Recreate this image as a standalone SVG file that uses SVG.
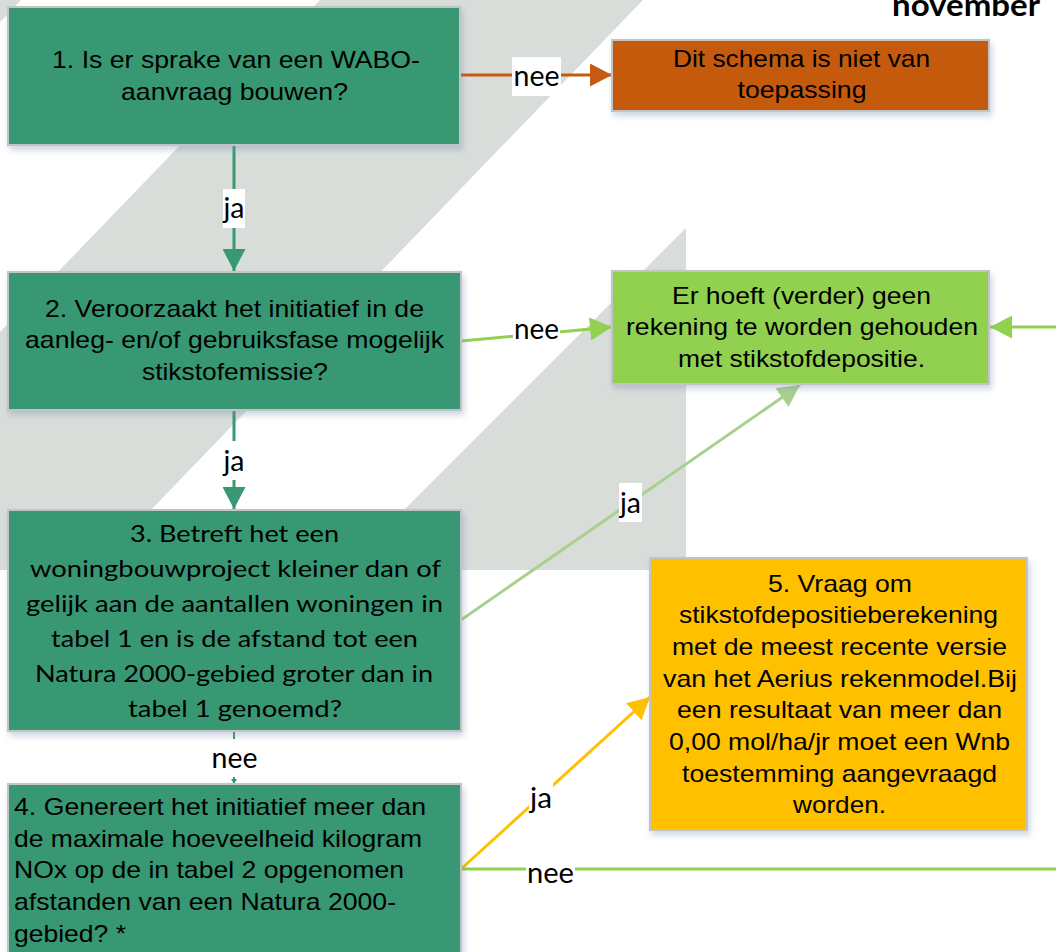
<svg xmlns="http://www.w3.org/2000/svg" width="1056" height="952" viewBox="0 0 1056 952">
<style>
.box{stroke:#C4C4C4;stroke-width:2;filter:url(#sh)}
.t{font-family:"Liberation Sans",Arial,sans-serif;font-size:24px;fill:#000;text-anchor:middle}
.tl{font-family:"Liberation Sans",Arial,sans-serif;font-size:24px;fill:#000}
.c{font-family:Lato,"Open Sans",sans-serif;font-size:23px;fill:#000;text-anchor:middle}
.lbl{font-family:Lato,"Open Sans",sans-serif;font-size:28px;fill:#000;text-anchor:middle}
.lb{fill:#fff}
.ln{fill:none;stroke-width:3}
</style>
<defs>
<filter id="sh" x="-5%" y="-5%" width="115%" height="120%">
<feDropShadow dx="2" dy="4" stdDeviation="3" flood-color="#7088B0" flood-opacity="0.35"/>
</filter>
<marker id="aG" markerUnits="userSpaceOnUse" markerWidth="23" markerHeight="23" refX="22" refY="11.5" orient="auto"><path d="M0,0 L22,11.5 L0,23 z" fill="#389873"/></marker>
<marker id="aGs" markerUnits="userSpaceOnUse" markerWidth="6" markerHeight="6" refX="5" refY="3" orient="auto"><path d="M0,0 L5,3 L0,6 z" fill="#389873"/></marker>
<marker id="aO" markerUnits="userSpaceOnUse" markerWidth="23" markerHeight="23" refX="22" refY="11.5" orient="auto"><path d="M0,0 L22,11.5 L0,23 z" fill="#C55A11"/></marker>
<marker id="aL" markerUnits="userSpaceOnUse" markerWidth="23" markerHeight="23" refX="22" refY="11.5" orient="auto"><path d="M0,0 L22,11.5 L0,23 z" fill="#92D050"/></marker>
<marker id="aP" markerUnits="userSpaceOnUse" markerWidth="23" markerHeight="23" refX="22" refY="11.5" orient="auto"><path d="M0,0 L22,11.5 L0,23 z" fill="#A9D18E"/></marker>
<marker id="aY" markerUnits="userSpaceOnUse" markerWidth="23" markerHeight="23" refX="22" refY="11.5" orient="auto"><path d="M0,0 L22,11.5 L0,23 z" fill="#FFC000"/></marker>
</defs>
<rect width="1056" height="952" fill="#fff"/>
<g id="background" fill="#D9DDDA">
<polygon points="0,0 21,0 0,22"/>
<polygon points="320,0 643,0 93,570 0,570 0,332"/>
<polygon points="686,228 686,570 344,570"/>
</g>
<text x="1040" y="16" font-family="Lato,'Open Sans',sans-serif" font-weight="bold" font-size="30" text-anchor="end" textLength="148" lengthAdjust="spacingAndGlyphs">november</text>
<g id="connectors">
<line class="ln" x1="460" y1="75" x2="612" y2="75" stroke="#C55A11" marker-end="url(#aO)"/>
<line class="ln" x1="234" y1="145" x2="234" y2="271" stroke="#389873" marker-end="url(#aG)"/>
<line class="ln" x1="461" y1="341" x2="612" y2="327" stroke="#92D050" marker-end="url(#aL)"/>
<line class="ln" x1="234" y1="410" x2="234" y2="509" stroke="#389873" marker-end="url(#aG)"/>
<line class="ln" x1="461" y1="620" x2="800" y2="385" stroke="#A9D18E" marker-end="url(#aP)"/>
<line x1="234" y1="731" x2="234" y2="784" stroke="#389873" stroke-width="2" marker-end="url(#aGs)"/>
<line class="ln" x1="461" y1="869" x2="650" y2="697" stroke="#FFC000" marker-end="url(#aY)"/>
<line class="ln" x1="461" y1="869" x2="1056" y2="869" stroke="#92D050"/>
<line class="ln" x1="1056" y1="327" x2="990" y2="327" stroke="#92D050" marker-end="url(#aL)"/>
<rect class="lb" x="512" y="57" width="49" height="39"/>
<text class="lbl" x="536.5" y="86" textLength="46" lengthAdjust="spacingAndGlyphs">nee</text>
<rect class="lb" x="223" y="189" width="22" height="39"/>
<text class="lbl" x="234" y="218" textLength="21" lengthAdjust="spacingAndGlyphs">ja</text>
<rect class="lb" x="513" y="311" width="47" height="38"/>
<text class="lbl" x="536.5" y="339" textLength="45" lengthAdjust="spacingAndGlyphs">nee</text>
<rect class="lb" x="223" y="441" width="22" height="39"/>
<text class="lbl" x="234" y="471" textLength="21" lengthAdjust="spacingAndGlyphs">ja</text>
<rect class="lb" x="619" y="483" width="23" height="39"/>
<text class="lbl" x="630.5" y="513" textLength="21" lengthAdjust="spacingAndGlyphs">ja</text>
<rect class="lb" x="211" y="739" width="48" height="38"/>
<text class="lbl" x="234.5" y="768" textLength="46" lengthAdjust="spacingAndGlyphs">nee</text>
<rect class="lb" x="529" y="781" width="24" height="38"/>
<text class="lbl" x="541" y="808" textLength="22" lengthAdjust="spacingAndGlyphs">ja</text>
<rect class="lb" x="526" y="856" width="49" height="38"/>
<text class="lbl" x="550.5" y="883" textLength="47" lengthAdjust="spacingAndGlyphs">nee</text>
</g>
<g id="n1">
<rect class="box" x="8" y="7" width="452" height="138" fill="#389873"/>
<text class="t" x="236" y="68" textLength="368" lengthAdjust="spacingAndGlyphs">1. Is er sprake van een WABO-</text>
<text class="t" x="234.5" y="100" textLength="227" lengthAdjust="spacingAndGlyphs">aanvraag bouwen?</text>
</g>
<g id="n_niet">
<rect class="box" x="612" y="40" width="377" height="71" fill="#C55A11"/>
<text class="t" x="801.5" y="67" textLength="257" lengthAdjust="spacingAndGlyphs">Dit schema is niet van</text>
<text class="t" x="802" y="98" textLength="129" lengthAdjust="spacingAndGlyphs">toepassing</text>
</g>
<g id="n2">
<rect class="box" x="8" y="272" width="453" height="138" fill="#389873"/>
<text class="t" x="234.5" y="317" textLength="379" lengthAdjust="spacingAndGlyphs">2. Veroorzaakt het initiatief in de</text>
<text class="t" x="234.5" y="348" textLength="419" lengthAdjust="spacingAndGlyphs">aanleg- en/of gebruiksfase mogelijk</text>
<text class="t" x="235" y="380" textLength="186" lengthAdjust="spacingAndGlyphs">stikstofemissie?</text>
</g>
<g id="n_geen">
<rect class="box" x="612" y="271" width="377" height="113" fill="#92D050"/>
<text class="t" x="801.5" y="304" textLength="259" lengthAdjust="spacingAndGlyphs">Er hoeft (verder) geen</text>
<text class="t" x="802" y="335" textLength="352" lengthAdjust="spacingAndGlyphs">rekening te worden gehouden</text>
<text class="t" x="801.5" y="367" textLength="247" lengthAdjust="spacingAndGlyphs">met stikstofdepositie.</text>
</g>
<g id="n3">
<rect class="box" x="8" y="510" width="453" height="221" fill="#389873"/>
<text class="c" x="234.5" y="542" textLength="209" lengthAdjust="spacingAndGlyphs">3. Betreft het een</text>
<text class="c" x="235.5" y="577" textLength="411" lengthAdjust="spacingAndGlyphs">woningbouwproject kleiner dan of</text>
<text class="c" x="234.5" y="612" textLength="417" lengthAdjust="spacingAndGlyphs">gelijk aan de aantallen woningen in</text>
<text class="c" x="234.5" y="647" textLength="367" lengthAdjust="spacingAndGlyphs">tabel 1 en is de afstand tot een</text>
<text class="c" x="234" y="682" textLength="398" lengthAdjust="spacingAndGlyphs">Natura 2000-gebied groter dan in</text>
<text class="c" x="235" y="717" textLength="214" lengthAdjust="spacingAndGlyphs">tabel 1 genoemd?</text>
</g>
<g id="n4">
<rect class="box" x="8" y="784" width="453" height="200" fill="#389873"/>
<text class="tl" x="14" y="815" textLength="412" lengthAdjust="spacingAndGlyphs">4. Genereert het initiatief meer dan</text>
<text class="tl" x="14" y="847" textLength="408" lengthAdjust="spacingAndGlyphs">de maximale hoeveelheid kilogram</text>
<text class="tl" x="14" y="878" textLength="390" lengthAdjust="spacingAndGlyphs">NOx op de in tabel 2 opgenomen</text>
<text class="tl" x="14" y="910" textLength="382" lengthAdjust="spacingAndGlyphs">afstanden van een Natura 2000-</text>
<text class="tl" x="14" y="942" textLength="112" lengthAdjust="spacingAndGlyphs">gebied? *</text>
</g>
<g id="n5">
<rect class="box" x="650" y="558" width="377" height="272" fill="#FFC000"/>
<text class="t" x="840" y="592" textLength="144" lengthAdjust="spacingAndGlyphs">5. Vraag om</text>
<text class="t" x="838.5" y="623" textLength="319" lengthAdjust="spacingAndGlyphs">stikstofdepositieberekening</text>
<text class="t" x="839.5" y="655" textLength="335" lengthAdjust="spacingAndGlyphs">met de meest recente versie</text>
<text class="t" x="840" y="687" textLength="354" lengthAdjust="spacingAndGlyphs">van het Aerius rekenmodel.Bij</text>
<text class="t" x="839.5" y="718" textLength="325" lengthAdjust="spacingAndGlyphs">een resultaat van meer dan</text>
<text class="t" x="839.5" y="750" textLength="341" lengthAdjust="spacingAndGlyphs">0,00 mol/ha/jr moet een Wnb</text>
<text class="t" x="839.5" y="782" textLength="315" lengthAdjust="spacingAndGlyphs">toestemming aangevraagd</text>
<text class="t" x="839.5" y="813" textLength="93" lengthAdjust="spacingAndGlyphs">worden.</text>
</g>
</svg>
